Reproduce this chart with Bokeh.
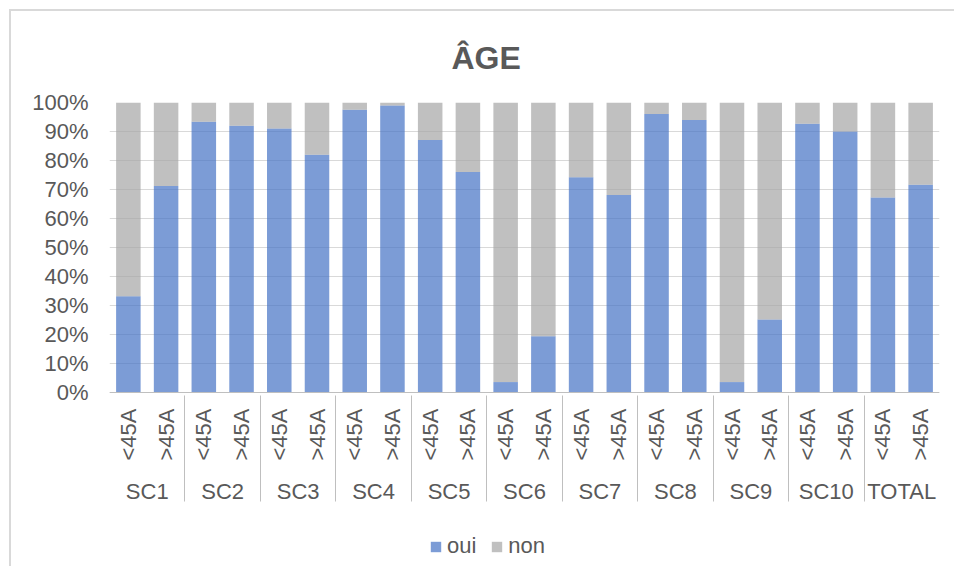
import math
from bokeh.plotting import figure
from bokeh.models import (FactorRange, FixedTicker, PrintfTickFormatter, Legend,
                          LegendItem, ColumnDataSource, Range1d)
from bokeh.embed import file_html
from bokeh.resources import INLINE

# ---- data (in %) ----
groups = ["SC1", "SC2", "SC3", "SC4", "SC5", "SC6", "SC7", "SC8", "SC9", "SC10", "TOTAL"]
ages = ["<45A", ">45A"]
oui = [33.2, 71.2, 93.4, 92.0, 91.0, 82.0, 97.5, 99.0, 87.1, 76.0, 3.6,
       19.4, 74.2, 68.1, 96.0, 94.0, 3.6, 25.2, 92.7, 90.0, 67.2, 71.6]
non = [66.8, 28.8, 6.6, 8.0, 9.0, 18.0, 2.5, 1.0, 12.9, 24.0, 96.4,
       80.6, 25.8, 31.9, 4.0, 6.0, 96.4, 74.8, 7.3, 10.0, 32.8, 28.4]
y_ticks = [0, 10, 20, 30, 40, 50, 60, 70, 80, 90, 100]
series = ["oui", "non"]
title_text = "ÂGE"

FONT = "Liberation Sans"
TXT = "#595959"

factors = [(g, a) for g in groups for a in ages]
source = ColumnDataSource(dict(x=factors, oui=oui, non=non))

# frame: 100% at top, 0% at 290 px below; extra room underneath holds the
# category axis (pinned at 0) and the legend
p = figure(
    x_range=FactorRange(*factors, group_padding=0, factor_padding=0, range_padding=0),
    y_range=Range1d(-60, 100),
    frame_width=830, frame_height=464,
    min_border_left=98, min_border_top=60, min_border_right=15, min_border_bottom=0,
    output_backend="svg", toolbar_location=None,
)
# chart-area border (top and left visible in the reference)
p.styles = {"margin-left": "9px", "margin-top": "9px",
            "border-left": "2px solid #d9d9d9", "border-top": "2px solid #d9d9d9"}

renderers = p.vbar_stack(series, x="x", width=0.65, source=source,
                         fill_color=["#4472C4", "#A5A5A5"], fill_alpha=0.7,
                         line_color=None)

# title
p.title.text = title_text
p.title.align = "left"
p.title.text_font = FONT
p.title.text_font_size = "32px"
p.title.text_font_style = "bold"
p.title.text_color = TXT
p.title.offset = 342
p.title.standoff = 53

# y axis
p.yaxis.ticker = FixedTicker(ticks=y_ticks)
p.yaxis.formatter = PrintfTickFormatter(format="%d%%")
p.yaxis.axis_line_color = None
p.yaxis.major_tick_line_color = None
p.yaxis.minor_tick_line_color = None
p.yaxis.major_tick_out = 0
p.yaxis.major_tick_in = 0
p.yaxis.major_label_text_font = FONT
p.yaxis.major_label_text_font_size = "22px"
p.yaxis.major_label_text_color = TXT
p.yaxis.major_label_standoff = 21

# grid
p.ygrid.ticker = FixedTicker(ticks=y_ticks)
p.ygrid.grid_line_color = "#d9d9d9"
p.ygrid.grid_line_width = 1
p.xgrid.grid_line_color = None
p.outline_line_color = None

# x axis (two levels), pinned at y = 0
xa = p.xaxis[0]
xa.fixed_location = 0
xa.axis_line_color = "#bfbfbf"
xa.axis_line_width = 1
xa.major_tick_line_color = None
xa.major_tick_out = 0
xa.major_tick_in = 0
xa.major_label_orientation = math.pi / 2
xa.major_label_text_font = FONT
xa.major_label_text_font_size = "22px"
xa.major_label_text_color = TXT
xa.major_label_standoff = 16
xa.group_text_font = FONT
xa.group_text_font_size = "22px"
xa.group_text_font_style = "normal"
xa.group_text_color = TXT
xa.group_label_orientation = "horizontal"
xa.separator_line_color = "#bfbfbf"
xa.separator_line_width = 1

# legend
legend = Legend(
    items=[LegendItem(label=s, renderers=[r]) for s, r in zip(series, renderers)],
    orientation="horizontal", location=(320, 7),
    glyph_width=13, glyph_height=13, label_standoff=5, spacing=14,
    label_text_font=FONT, label_text_font_size="22px", label_text_color=TXT,
    border_line_color=None, background_fill_alpha=0, padding=4, margin=0,
)
p.add_layout(legend, "center")

open("out.html", "w").write(file_html(p, INLINE))
